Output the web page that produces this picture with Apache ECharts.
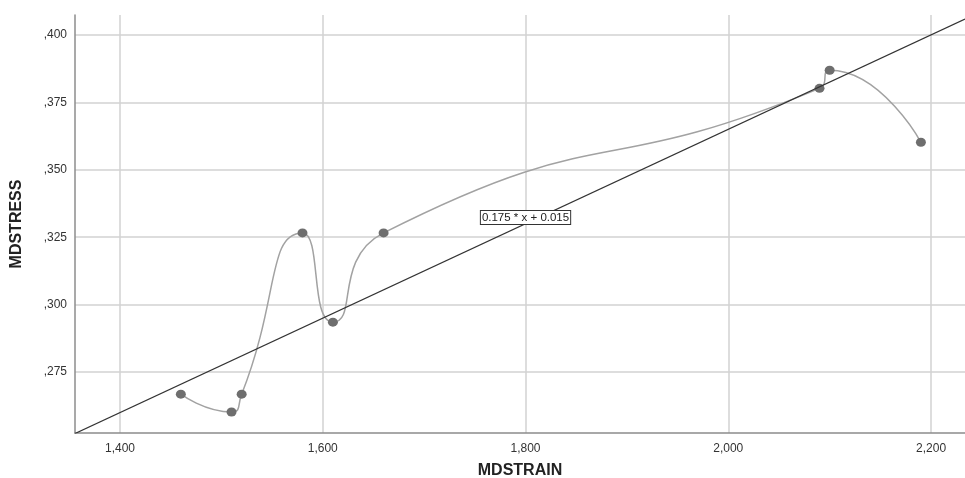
<!DOCTYPE html>
<html>
<head>
<meta charset="utf-8">
<script src="https://cdn.jsdelivr.net/npm/echarts@6/dist/echarts.min.js"></script>
<style>
  html, body { margin: 0; padding: 0; background: #fff; }
  #main { width: 965px; height: 478px; }
</style>
</head>
<body>
<div id="main"></div>
<script>
var strainValues = [1.46, 1.51, 1.52, 1.58, 1.61, 1.66, 2.09, 2.10, 2.19];
var stressValues = [0.2668, 0.2602, 0.2668, 0.3266, 0.2935, 0.3266, 0.3802, 0.3869, 0.3602];

// linear fit line end points, as drawn
var fitLineX = [1.3556, 2.2335];
var fitLineY = [0.2522, 0.4059];
var fitLabel = '0.175 * x + 0.015';
var fitLabelAt = [1.8, 0.3323];

var xTicks = [1.4, 1.6, 1.8, 2.0, 2.2];
var yTicks = [0.275, 0.300, 0.325, 0.350, 0.375, 0.400];

var pointData = [];
for (var i = 0; i < strainValues.length; i++) {
  pointData.push([strainValues[i], stressValues[i]]);
}
var fitData = [];
for (var j = 0; j < fitLineX.length; j++) {
  fitData.push([fitLineX[j], fitLineY[j]]);
}

function commaDec(v) {
  return v.toFixed(3).replace('.', ',');
}

var chart = echarts.init(document.getElementById('main'));
chart.setOption({
  animation: false,
  backgroundColor: '#fff',
  textStyle: { fontFamily: 'Liberation Sans, Arial, sans-serif' },
  grid: { left: 75, right: 0, top: 15, bottom: 45, containLabel: false, outerBoundsMode: 'none' },
  xAxis: {
    type: 'value',
    min: 1.3556,
    max: 2.2335,
    name: 'MDSTRAIN',
    nameLocation: 'middle',
    nameGap: 30,
    nameTextStyle: { fontSize: 16, fontWeight: 'bold', color: '#222' },
    axisLine: { lineStyle: { color: '#8c8c8c', width: 1.5 } },
    axisTick: { show: false, customValues: xTicks },
    axisLabel: {
      customValues: xTicks,
      fontSize: 12, color: '#333', margin: 10,
      formatter: function (v) { return commaDec(v); }
    },
    splitLine: { show: true, lineStyle: { color: '#d2d2d2', width: 1.5 } }
  },
  yAxis: {
    type: 'value',
    min: 0.2524,
    max: 0.4074,
    name: 'MDSTRESS',
    nameLocation: 'middle',
    nameGap: 50,
    nameTextStyle: { fontSize: 16, fontWeight: 'bold', color: '#222' },
    axisLine: { show: true, lineStyle: { color: '#8c8c8c', width: 1.5 } },
    axisTick: { show: false, customValues: yTicks },
    axisLabel: {
      customValues: yTicks,
      fontSize: 12, color: '#333', margin: 8,
      formatter: function (v) { return commaDec(v).replace(/^0/, ''); }
    },
    splitLine: { show: true, lineStyle: { color: '#d2d2d2', width: 1.5 } }
  },
  series: [
    {
      type: 'line',
      data: pointData,
      smooth: 0.6,
      symbol: 'circle',
      symbolSize: [10, 9],
      showAllSymbol: true,
      itemStyle: { color: '#6e6e6e' },
      lineStyle: { color: '#a2a2a2', width: 1.5 },
      z: 3
    },
    {
      type: 'line',
      data: fitData,
      symbol: 'none',
      lineStyle: { color: '#333', width: 1.2 },
      z: 4,
      markPoint: {
        symbol: 'rect',
        symbolSize: 0,
        data: [{ coord: fitLabelAt }],
        label: {
          show: true,
          position: 'inside',
          formatter: fitLabel,
          fontSize: 11.5,
          color: '#222',
          backgroundColor: '#fff',
          borderColor: '#333',
          borderWidth: 1,
          padding: [1, 1, 0, 1]
        },
        z: 6
      }
    }
  ]
});
</script>
</body>
</html>
